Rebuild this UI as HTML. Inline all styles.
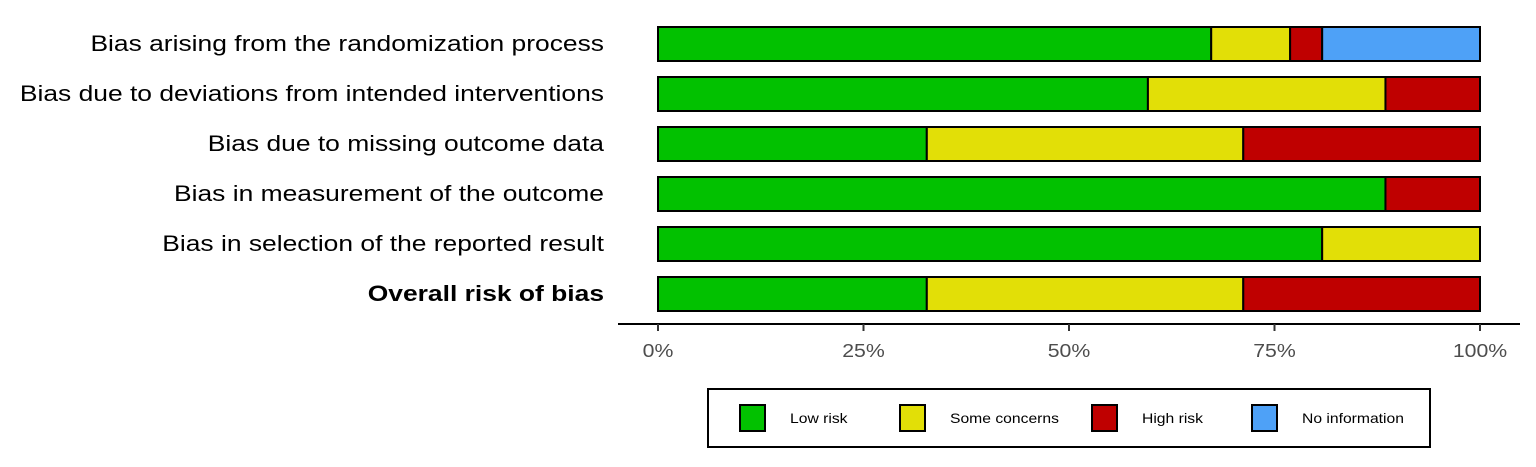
<!DOCTYPE html>
<html><head><meta charset="utf-8"><style>
body{margin:0;background:#fff;}
svg text{font-family:"Liberation Sans",Arial,sans-serif;}
</style></head><body>
<svg id="chart" width="1536" height="462" xmlns="http://www.w3.org/2000/svg"></svg>
<script>
const domains = ["Bias arising from the randomization process","Bias due to deviations from intended interventions","Bias due to missing outcome data","Bias in measurement of the outcome","Bias in selection of the reported result","Overall risk of bias"];
const lowRisk = [67.3, 59.6, 32.7, 88.5, 80.8, 32.7];
const someConcerns = [9.6, 28.9, 38.5, 0, 19.2, 38.5];
const highRisk = [3.9, 11.5, 28.8, 11.5, 0, 28.8];
const noInfo = [19.2, 0, 0, 0, 0, 0];
const tickValues = [0, 25, 50, 75, 100];
const tickLabels = ["0%","25%","50%","75%","100%"];
const seriesNames = ["Low risk","Some concerns","High risk","No information"];
const seriesColors = ["#02C100","#E2DF07","#BF0000","#4EA1F7"];

const svg = document.getElementById('chart');
const NS = "http://www.w3.org/2000/svg";
const x = v => 658 + v / 100 * 822;
const y = i => 27 + i * 50;
function mk(tag, attrs){const e=document.createElementNS(NS,tag);for(const k in attrs)e.setAttribute(k,attrs[k]);svg.appendChild(e);return e;}
function widen(t,f){const w=t.getComputedTextLength();t.setAttribute('textLength',w*f);t.setAttribute('lengthAdjust','spacingAndGlyphs');}

const series=[lowRisk,someConcerns,highRisk,noInfo];
domains.forEach((d,i)=>{
  const t=mk('text',{x:604,y:y(i)+24,'text-anchor':'end','font-size':22,fill:'#000','font-weight':i===5?'bold':'normal'});
  t.textContent=d;
  
  
  widen(t,1.2);
  let acc=0;
  series.forEach((s,k)=>{
    if(s[i]<=0)return;
    const r=mk('rect',{x:x(acc),y:y(i),width:x(acc+s[i])-x(acc),height:34,fill:seriesColors[k],stroke:'#000','stroke-width':2});
    
    
    acc+=s[i];
  });
});
const ax=mk('line',{x1:618,x2:1520,y1:324,y2:324,stroke:'#000','stroke-width':2});


tickValues.forEach((v,i)=>{
  mk('line',{x1:x(v),x2:x(v),y1:324,y2:331,stroke:'#333','stroke-width':2});
  const t=mk('text',{x:x(v),y:357,'text-anchor':'middle','font-size':18,fill:'#4d4d4d'});
  t.textContent=tickLabels[i];
  
  
  widen(t,1.18);
});
const lg=mk('rect',{x:708,y:389,width:722,height:58,fill:'#fff',stroke:'#000','stroke-width':2});


const keyX=[740,900,1092,1252];
seriesNames.forEach((n,k)=>{
  const r=mk('rect',{x:keyX[k],y:405,width:25,height:26,fill:seriesColors[k],stroke:'#000','stroke-width':2});
  
  
  const t=mk('text',{x:keyX[k]+50,y:423,'font-size':14,fill:'#000'});
  t.textContent=n;
  
  
  widen(t,1.12);
});
</script>
</body></html>
